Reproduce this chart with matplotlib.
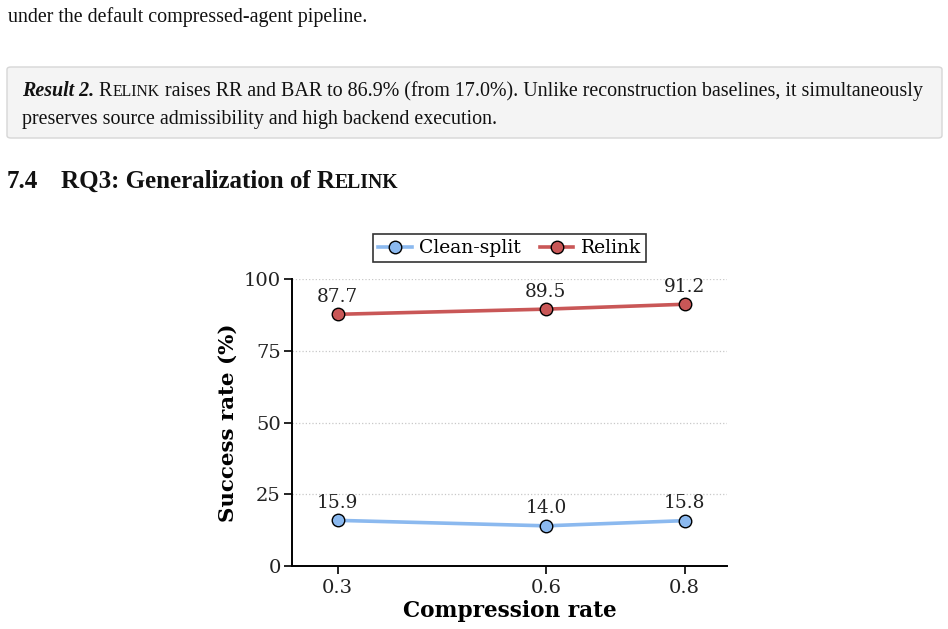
import matplotlib
matplotlib.use("Agg")
import matplotlib.pyplot as plt
from matplotlib.patches import FancyBboxPatch

# data
rates = [0.3, 0.6, 0.8]
tick_labels = ["0.3", "0.6", "0.8"]
clean_split = [15.9, 14.0, 15.8]
relink = [87.7, 89.5, 91.2]

W, H = 948, 629
fig = plt.figure(figsize=(W / 100, H / 100), dpi=100)
renderer = fig.canvas.get_renderer()


def fx(x):
    return x / W


def fy(y):
    return 1 - y / H


def run(x, y, pieces):
    # draw text pieces one after another on the same baseline (pixel coords)
    for s, kw in pieces:
        t = fig.text(fx(x), fy(y), s, va="baseline", ha="left", **kw)
        x += t.get_window_extent(renderer).width


body = dict(family="Liberation Serif", size=14.4, color="#111111")
small = dict(family="Liberation Serif", size=11.3, color="#111111")

# page text around the figure
run(8, 22, [("under the default compressed-agent pipeline.", body)])

box = FancyBboxPatch((fx(7), fy(138)), fx(935), 71 / H,
                     boxstyle="round,pad=0,rounding_size=0.004",
                     transform=fig.transFigure, facecolor="#f4f4f4",
                     edgecolor="#d6d6d6", linewidth=1.0)
fig.patches.append(box)

run(22, 96, [("Result 2.", dict(body, weight="bold", style="italic")),
             (" R", body), ("ELINK", small),
             (" raises RR and BAR to 86.9% (from 17.0%). Unlike reconstruction "
              "baselines, it simultaneously", body)])
run(22, 124, [("preserves source admissibility and high backend execution.", body)])

head = dict(family="Liberation Serif", size=18, weight="bold", color="#111111")
head_small = dict(head, size=14.2)
run(7, 188, [("7.4", head)])
run(61, 188, [("RQ3: Generalization of R", head), ("ELINK", head_small)])

# chart
plt.rcParams["font.family"] = "DejaVu Serif"
ax = fig.add_axes([292 / W, 1 - 566 / H, 435 / W, 287 / H])

ax.plot(rates, clean_split, color="#8bb9ef", lw=2.6, marker="o", ms=9,
        mfc="#8bb9ef", mec="black", mew=1.0, label="Clean-split", zorder=3)
ax.plot(rates, relink, color="#c95757", lw=2.6, marker="o", ms=9,
        mfc="#c95757", mec="black", mew=1.0, label="Relink", zorder=3)

for xs, ys in [(rates, clean_split), (rates, relink)]:
    for x, y in zip(xs, ys):
        ax.annotate(f"{y:.1f}", (x, y), xytext=(0, 6), textcoords="offset points",
                    ha="center", va="bottom", fontsize=13.3, color="#222222")

ax.set_xlim(0.234, 0.861)
ax.set_ylim(0, 100)
ax.set_xticks(rates)
ax.set_xticklabels(tick_labels)
ax.set_yticks([0, 25, 50, 75, 100])
ax.tick_params(labelsize=14, length=6, width=1.2, color="black", labelcolor="#222222")
ax.tick_params(axis="y", pad=2)
for s in ["top", "right"]:
    ax.spines[s].set_visible(False)
for s in ["left", "bottom"]:
    ax.spines[s].set_linewidth(1.4)
ax.grid(axis="y", linestyle=":", color="#c8c8c8", lw=0.9)
ax.set_axisbelow(True)

ax.set_xlabel("Compression rate", fontsize=15.6, fontweight="bold", labelpad=2)
ax.set_ylabel("Success rate (%)", fontsize=15.4, fontweight="bold", labelpad=4)

leg = ax.legend(loc="lower center", bbox_to_anchor=(0.5, 1.06), ncol=2,
                fontsize=13.5, frameon=True, fancybox=False, edgecolor="black",
                handlelength=1.8, columnspacing=1.0, borderpad=0.25,
                handletextpad=0.4, borderaxespad=0)
leg.get_frame().set_linewidth(1.2)

fig.savefig("out.png", dpi=100)
